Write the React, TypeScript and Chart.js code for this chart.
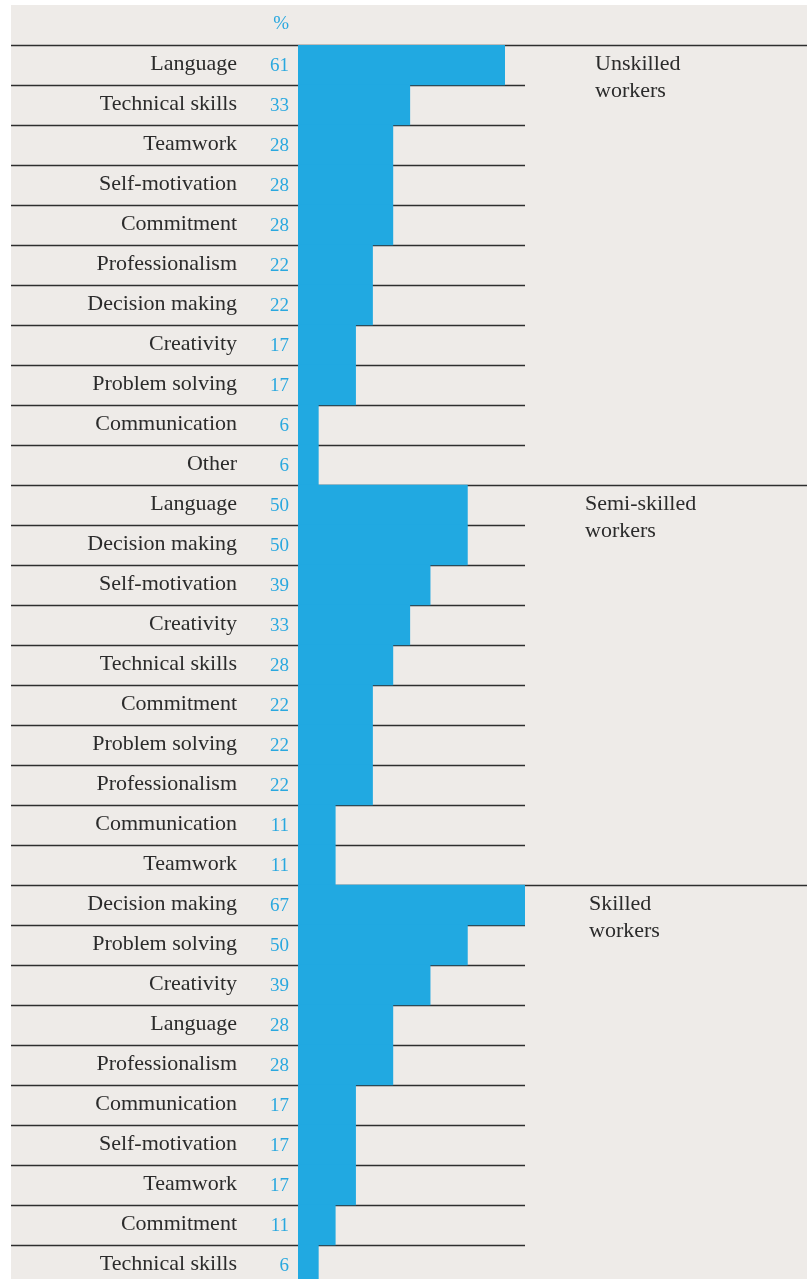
import React, { useEffect, useRef } from "react";
import { Chart, registerables } from "chart.js";

Chart.register(...registerables);

const unskilledLabels = ["Language", "Technical skills", "Teamwork", "Self-motivation", "Commitment", "Professionalism", "Decision making", "Creativity", "Problem solving", "Communication", "Other"];
const unskilledValues = [61, 33, 28, 28, 28, 22, 22, 17, 17, 6, 6];

const semiLabels = ["Language", "Decision making", "Self-motivation", "Creativity", "Technical skills", "Commitment", "Problem solving", "Professionalism", "Communication", "Teamwork"];
const semiValues = [50, 50, 39, 33, 28, 22, 22, 22, 11, 11];

const skilledLabels = ["Decision making", "Problem solving", "Creativity", "Language", "Professionalism", "Communication", "Self-motivation", "Teamwork", "Commitment", "Technical skills"];
const skilledValues = [67, 50, 39, 28, 28, 17, 17, 17, 11, 6];

const groupNames = [["Unskilled", "workers"], ["Semi-skilled", "workers"], ["Skilled", "workers"]];
const groupLabelX = [595, 585, 589];
const unitLabel = "%";

const BG = "#EEEBE8";
const BLUE = "#21A9E1";
const NUM_BLUE = "#2AA8DF";
const TEXT = "#2b2b2b";
const LINE = "#2e2e2e";
const FONT = "'Liberation Serif', 'DejaVu Serif', serif";

export default function App() {
  const ref = useRef<HTMLCanvasElement | null>(null);

  useEffect(() => {
    const canvas = ref.current;
    if (!canvas) return;
    const labels = [...unskilledLabels, ...semiLabels, ...skilledLabels];
    const values = [...unskilledValues, ...semiValues, ...skilledValues];
    const groupStarts = [0, unskilledLabels.length, unskilledLabels.length + semiLabels.length];
    const W = 807;
    const H = 1285;

    const decor = {
      id: "decor",
      beforeDraw(chart: any) {
        const ctx = chart.ctx;
        ctx.save();
        ctx.fillStyle = "#ffffff";
        ctx.fillRect(0, 0, W, H);
        ctx.fillStyle = BG;
        ctx.fillRect(11, 5, W - 11, H - 5);
        ctx.restore();
      },
      beforeDatasetsDraw(chart: any) {
        const ctx = chart.ctx;
        const y = chart.scales.y;
        const area = chart.chartArea;
        const n = labels.length;
        const half = (y.getPixelForValue(1) - y.getPixelForValue(0)) / 2;
        ctx.save();
        ctx.strokeStyle = LINE;
        ctx.lineWidth = 1.4;
        for (let i = 0; i <= n; i++) {
          const py = Math.round(y.getPixelForValue(i) - half) + 0.5;
          const long = groupStarts.includes(i);
          ctx.beginPath();
          ctx.moveTo(11, py);
          ctx.lineTo(long ? W : area.right, py);
          ctx.stroke();
        }
        ctx.restore();
      },
      afterDatasetsDraw(chart: any) {
        const ctx = chart.ctx;
        const y = chart.scales.y;
        const half = (y.getPixelForValue(1) - y.getPixelForValue(0)) / 2;
        ctx.save();
        ctx.textBaseline = "middle";
        ctx.textAlign = "right";
        ctx.fillStyle = TEXT;
        ctx.font = `22px ${FONT}`;
        labels.forEach((l, i) => {
          ctx.fillText(l, 237, y.getPixelForValue(i) - 1);
        });
        ctx.fillStyle = NUM_BLUE;
        ctx.font = `19px ${FONT}`;
        values.forEach((v, i) => {
          ctx.fillText(String(v), 289, y.getPixelForValue(i) + 1);
        });
        ctx.fillText(unitLabel, 289, y.getPixelForValue(0) - half * 2 - 1);
        ctx.fillStyle = TEXT;
        ctx.font = `22px ${FONT}`;
        ctx.textAlign = "left";
        groupStarts.forEach((s, g) => {
          const cy = y.getPixelForValue(s);
          ctx.fillText(groupNames[g][0], groupLabelX[g], cy - 1);
          ctx.fillText(groupNames[g][1], groupLabelX[g], cy + 26);
        });
        ctx.restore();
      },
    };

    const chart = new Chart(canvas, {
      type: "bar",
      data: {
        labels,
        datasets: [
          {
            data: values,
            backgroundColor: BLUE,
            borderWidth: 0,
            barPercentage: 1,
            categoryPercentage: 1,
          },
        ],
      },
      options: {
        indexAxis: "y",
        responsive: false,
        animation: false,
        devicePixelRatio: 1,
        layout: { padding: { top: 45, right: W - 525, bottom: 0, left: 298 } },
        plugins: { legend: { display: false }, tooltip: { enabled: false } },
        scales: {
          x: { display: false, min: 0, max: Math.max(...values) },
          y: { display: false },
        },
      },
      plugins: [decor],
    });
    return () => chart.destroy();
  }, []);

  return (
    <div style={{ position: "absolute", left: 0, top: 0, width: 807, height: 1279, overflow: "hidden" }}>
      <canvas ref={ref} width={807} height={1285} style={{ width: 807, height: 1285, display: "block" }} />
    </div>
  );
}
